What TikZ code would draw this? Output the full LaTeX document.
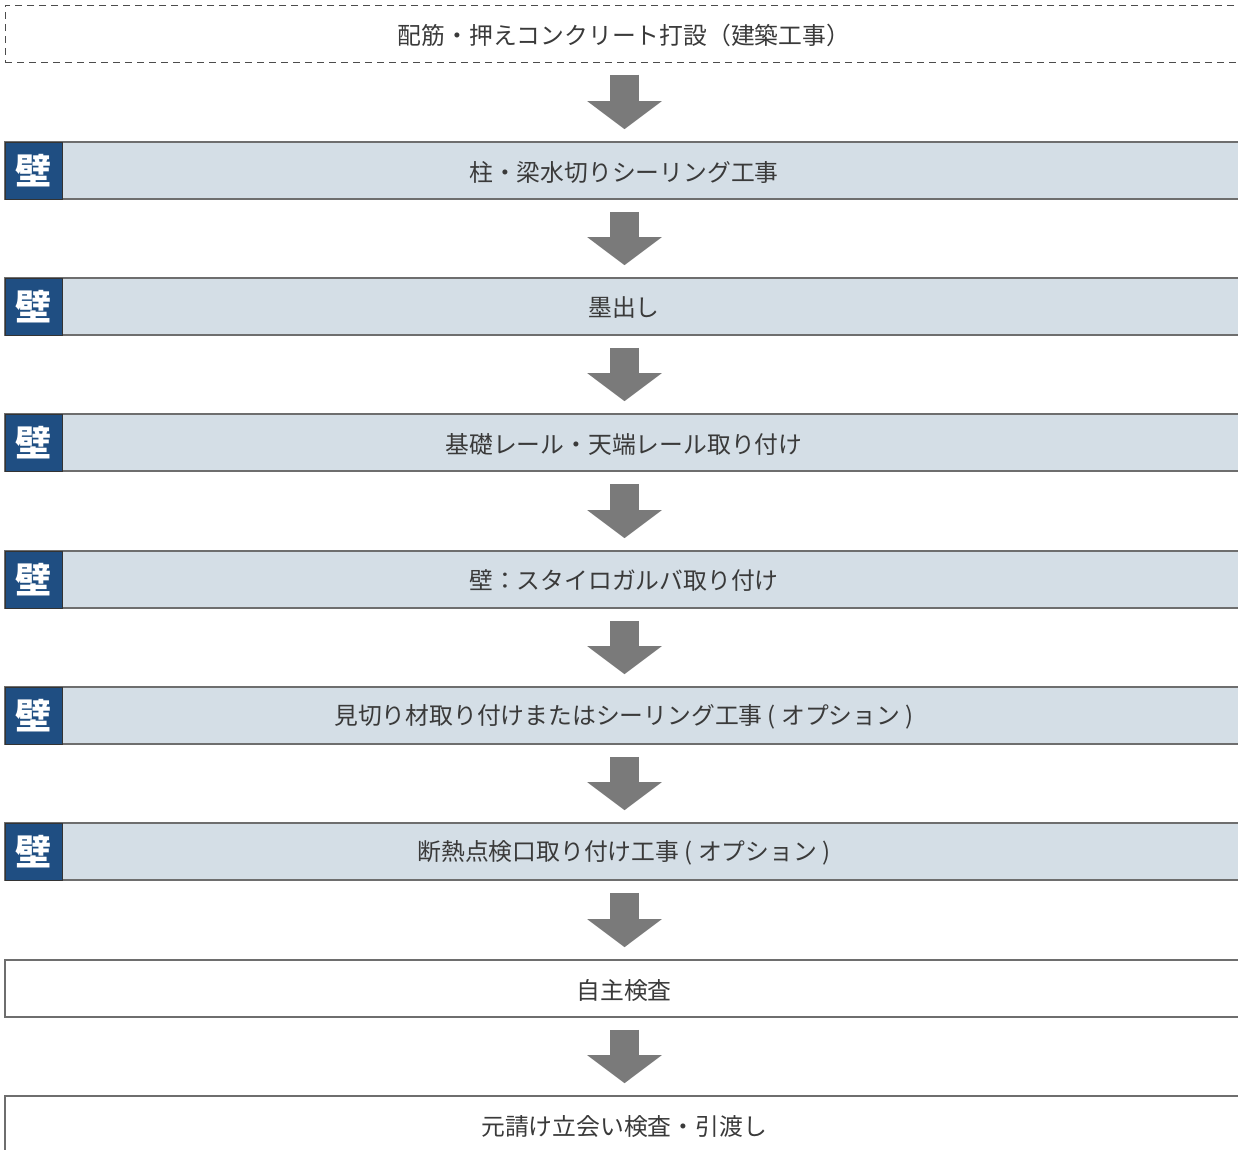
\documentclass[tikz,border=0pt]{standalone}
\usepackage{fontspec}
\setmainfont{Noto Sans CJK JP}
\usetikzlibrary{arrows.meta}
\definecolor{barfill}{HTML}{D4DEE6}
\definecolor{barline}{HTML}{6E6E6E}
\definecolor{badgeblue}{HTML}{1F4E82}
\definecolor{arrowgray}{HTML}{7A7A7A}
\definecolor{txt}{HTML}{3A3A3A}
\tikzset{
  stepbar/.style={draw=barline, line width=1.6pt, fill=barfill, minimum width=1240pt, minimum height=57pt, inner sep=0pt},
  plainbar/.style={draw=barline, line width=1.6pt, fill=white, minimum width=1240pt, minimum height=57pt, inner sep=0pt},
  dashbar/.style={draw=black!70, line width=1pt, dash pattern=on 7pt off 5pt, minimum width=1240pt, minimum height=57pt, inner sep=0pt},
  steptext/.style={text=txt, font=\fontsize{23.8}{24}\selectfont, inner sep=0pt},
  badge/.style={draw=black!80, line width=1pt, fill=badgeblue, minimum width=57pt, minimum height=57pt, inner sep=0pt, text=white, font=\fontsize{36}{36}\selectfont\bfseries},
  flowarrow/.style={draw=arrowgray, line width=29pt, -{Triangle[length=28pt,width=73pt,color=arrowgray]}, shorten <=12pt, shorten >=12pt},
}
\begin{document}
\begin{tikzpicture}[x=1pt,y=-1pt]
\useasboundingbox (0,0) rectangle (1238,1149);
\node[dashbar] (s0) at (625,33.5) {};
\node[steptext] (ts0) at ([xshift=-1pt,yshift=-1.5pt]s0.center) {配筋・押えコンクリート打設（建築工事）};
\node[stepbar] (s1) at (625,170.5) {};
\node[stepbar] (s2) at (625,306.5) {};
\node[stepbar] (s3) at (625,442.5) {};
\node[stepbar] (s4) at (625,579.5) {};
\node[stepbar] (s5) at (625,715.5) {};
\node[stepbar] (s6) at (625,851.5) {};
\node[plainbar] (s7) at (625,988.5) {};
\node[plainbar] (s8) at (625,1124.5) {};
\foreach \n/\t in {s1/柱・梁水切りシーリング工事, s2/墨出し, s3/基礎レール・天端レール取り付け, s4/壁：スタイロガルバ取り付け, s5/見切り材取り付けまたはシーリング工事 ( オプション ), s6/断熱点検口取り付け工事 ( オプション ), s7/自主検査, s8/元請け立会い検査・引渡し}
  \node[steptext] (t\n) at ([xshift=-1pt,yshift=-1.5pt]\n.center) {\t};
\foreach \n in {s1,s2,s3,s4,s5,s6}
  \node[badge] (b\n) at ([xshift=-591.5pt]\n.center) {壁};
\foreach \a/\b in {s0/s1,s1/s2,s2/s3,s3/s4,s4/s5,s5/s6,s6/s7,s7/s8}
  \draw[flowarrow] ([xshift=-0.5pt]\a.south) -- ([xshift=-0.5pt]\b.north);
\end{tikzpicture}
\end{document}
